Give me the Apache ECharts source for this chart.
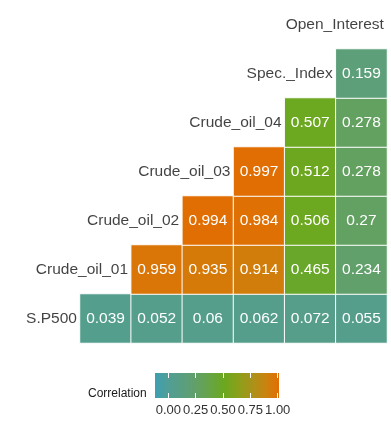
<!DOCTYPE html>
<html>
<head>
<meta charset="utf-8">
<script src="https://cdn.jsdelivr.net/npm/echarts@6/dist/echarts.min.js"></script>
<style>html,body{margin:0;padding:0;background:#fff}#c{width:391px;height:421px}</style>
</head>
<body>
<div id="c"></div>
<script>
// Variables (diagonal order, bottom-left to top-right)
const variables = ['S.P500','Crude_oil_01','Crude_oil_02','Crude_oil_03','Crude_oil_04','Spec._Index','Open_Interest'];
// Lower-triangle correlations: each row lists values for the variables to its right
const rowSP500      = [0.039, 0.052, 0.06, 0.062, 0.072, 0.055];
const rowCrude01    = [0.959, 0.935, 0.914, 0.465, 0.234];
const rowCrude02    = [0.994, 0.984, 0.506, 0.27];
const rowCrude03    = [0.997, 0.512, 0.278];
const rowCrude04    = [0.507, 0.278];
const rowSpecIndex  = [0.159];
const rows = [rowSP500, rowCrude01, rowCrude02, rowCrude03, rowCrude04, rowSpecIndex];
const legendTicks = [0, 0.25, 0.5, 0.75, 1];
const scaleMin = -0.125, scaleMax = 1;

const cells = [];
rows.forEach((vals, i) => {
  vals.forEach((v, k) => { cells.push([i + 1 + k, i, v]); });
});
const diag = variables.map((n, i) => [i, i, n]);

// color ramp stops at -0.125, 0, 0.125, ..., 1.0 : teal -> green (0.5) -> orange (1.0)
const ramp = ['#3d9fb1','#519e95','#5a9e80','#62a068','#67a445','#6aa820','#8aa01a','#a8931a','#c98410','#e26d02'];

const chart = echarts.init(document.getElementById('c'), null, {renderer:'canvas'});
const font = '"Liberation Sans", Arial, sans-serif';
chart.setOption({
  animation:false,
  textStyle:{fontFamily:font},
  grid:[
    {left:28.8, right:4, top:-14.4, bottom:78, containLabel:false},
    {left:168.3, width:109.4, top:373, height:25}
  ],
  xAxis:[
    {type:'category', data:variables, gridIndex:0, show:false},
    {type:'value', gridIndex:1, min:0, max:1, interval:0.25, position:'bottom', z:10,
     axisLine:{show:false}, splitLine:{show:false},
     axisTick:{show:true, inside:true, length:5, lineStyle:{color:'#ffffff', width:1}},
     axisLabel:{show:true, margin:6, fontSize:13, color:'#333333', fontFamily:font, formatter:v=>v.toFixed(2)}},
    {type:'value', gridIndex:1, min:0, max:1, interval:0.25, position:'top', z:10,
     axisLine:{show:false}, splitLine:{show:false}, axisLabel:{show:false},
     axisTick:{show:true, inside:true, length:5, lineStyle:{color:'#ffffff', width:1}}}
  ],
  yAxis:[
    {type:'category', data:variables, gridIndex:0, show:false},
    {type:'value', gridIndex:1, min:0, max:1, show:false}
  ],
  visualMap:{type:'continuous', show:false, min:scaleMin, max:scaleMax, dimension:2, seriesIndex:0, inRange:{color:ramp}},
  graphic:[
    {type:'rect', z:1, shape:{x:155, y:373, width:124, height:25},
     style:{fill:new echarts.graphic.LinearGradient(0,0,1,0, ramp.map((c,i)=>({offset:i/9,color:c})))}},
    {type:'text', left:88, top:388, z:2, style:{text:'Correlation', fontSize:12, fill:'#1a1a1a', fontFamily:font}}
  ],
  series:[
    {type:'heatmap', xAxisIndex:0, yAxisIndex:0, data:cells,
     itemStyle:{borderColor:'#ffffff', borderWidth:1},
     label:{show:true, color:'#ffffff', fontSize:15.5, fontFamily:font, formatter:p=>String(p.value[2])},
     emphasis:{disabled:true}},
    {type:'scatter', xAxisIndex:0, yAxisIndex:0, data:diag, symbolSize:0, silent:true,
     label:{show:true, position:'inside', align:'right', offset:[22.5,0], color:'#111111', fontSize:15.5, fontFamily:font, formatter:p=>p.value[2]}}
  ]
});
</script>
</body>
</html>
